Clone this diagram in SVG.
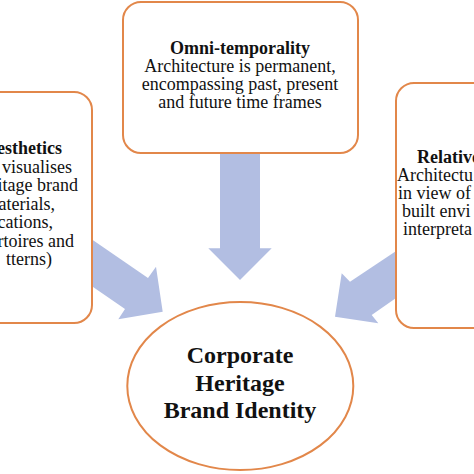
<svg xmlns="http://www.w3.org/2000/svg" width="474" height="474" viewBox="0 0 474 474">
<style>
.box{fill:#fff;stroke:#E2874A;stroke-width:2}
.arr{fill:#B2BEE2;stroke:none}
.t{font-family:"Liberation Serif","Times New Roman",serif;font-size:18px;fill:#111}
.b{font-weight:bold}
.c{font-family:"Liberation Serif","Times New Roman",serif;font-size:24px;font-weight:bold;fill:#111;text-anchor:middle}
</style>
<rect width="474" height="474" fill="#fff"/>
<g id="connectors">
<polygon class="arr" points="220,140 260,140 260,248.3 271.7,248.3 240,280 208.3,248.3 220,248.3"/>
<polygon class="arr" points="80,231.3 148,278 156,266.7 162.7,311.7 118.3,319.3 125,309 80,278"/>
<polygon class="arr" points="410,241.7 350,281.7 341.7,273.3 335,316.7 378.3,323.3 371.7,315 410,288.3"/>
</g>
<g id="omni">
<rect class="box" x="123" y="2" width="235" height="151" rx="18"/>
<text class="t" text-anchor="middle"><tspan class="b" x="240" y="54">Omni-temporality</tspan><tspan x="240" y="72">Architecture is permanent,</tspan><tspan x="240" y="90">encompassing past, present</tspan><tspan x="240" y="108">and future time frames</tspan></text>
</g>
<g id="aesthetics">
<rect class="box" x="-100" y="92" width="192" height="231" rx="18"/>
<text class="t" text-anchor="end"><tspan class="b" x="62" y="154">esthetics</tspan><tspan x="72" y="173">visualises</tspan><tspan x="78" y="191">itage brand</tspan><tspan x="55" y="210">aterials,</tspan><tspan x="53" y="228">cations,</tspan><tspan x="74" y="247">rtoires and</tspan><tspan x="52" y="265">tterns)</tspan></text>
</g>
<g id="relative">
<rect class="box" x="396" y="83" width="200" height="245" rx="18"/>
<text class="t"><tspan class="b" x="417" y="163">Relative</tspan><tspan x="397" y="181">Architectu</tspan><tspan x="398" y="199">in view of</tspan><tspan x="402" y="217">built envi</tspan><tspan x="403" y="235">interpreta</tspan></text>
</g>
<g id="core">
<ellipse class="box" cx="240.3" cy="386" rx="113" ry="84"/>
<text class="c"><tspan x="240" y="363">Corporate</tspan><tspan x="240" y="391">Heritage</tspan><tspan x="240" y="418">Brand Identity</tspan></text>
</g>
</svg>
